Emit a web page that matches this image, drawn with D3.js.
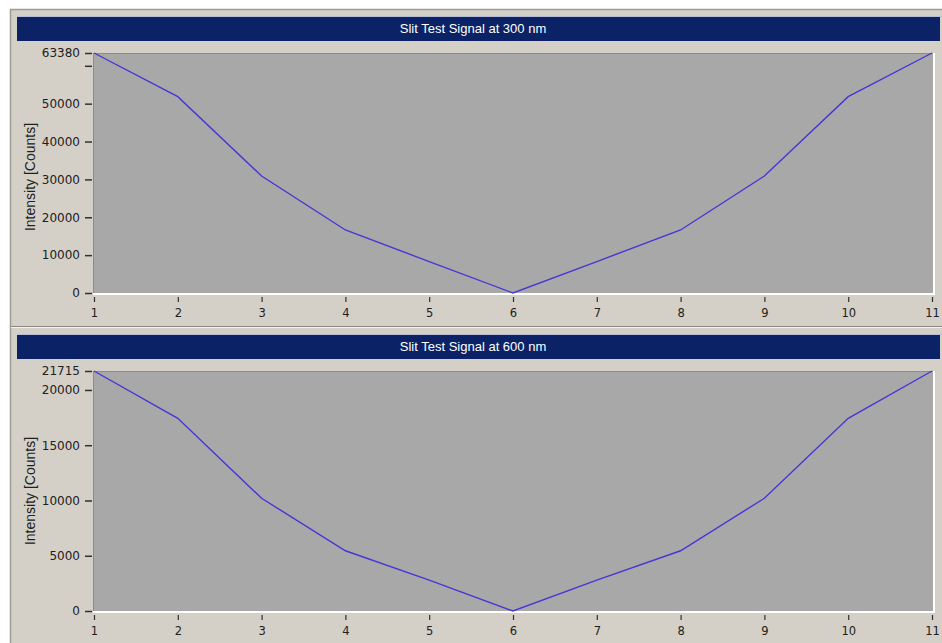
<!DOCTYPE html>
<html>
<head>
<meta charset="utf-8">
<script src="https://cdn.jsdelivr.net/npm/d3@7"></script>
<style>
  body { margin: 0; background: #ffffff; }
  svg { display: block; }
</style>
</head>
<body>
<svg id="chart" width="942" height="643"></svg>
<script>
// readings at each slit position
const positions = [1, 2, 3, 4, 5, 6, 7, 8, 9, 10, 11];
const signal300 = [63380, 51840, 30900, 16640, 8300, 0, 8300, 16640, 30900, 51840, 63380];
const signal600 = [21715, 17430, 10200, 5450, 2800, 0, 2800, 5450, 10200, 17430, 21715];

const titles = ["Slit Test Signal at 300 nm", "Slit Test Signal at 600 nm"];
const yTicks300 = [0, 10000, 20000, 30000, 40000, 50000, 60000, 63380];
const yLabels300 = ["0", "10000", "20000", "30000", "40000", "50000", "", "63380"];
const yTicks600 = [0, 5000, 10000, 15000, 20000, 21715];
const yLabels600 = ["0", "5000", "10000", "15000", "20000", "21715"];
const yTitle = "Intensity [Counts]";

const svg = d3.select("#chart");
const W = 942, H = 643;
const font = "'Liberation Sans', Arial, sans-serif";
const tickFont = "'DejaVu Sans', Verdana, sans-serif";

// window body
svg.append("rect").attr("x", 10).attr("y", 9).attr("width", W - 10).attr("height", H - 9)
    .attr("fill", "#d4d0c8");
svg.append("line").attr("x1", 10.5).attr("x2", 10.5).attr("y1", 9).attr("y2", H)
    .attr("stroke", "#a09c94").attr("stroke-width", 1.5);
svg.append("line").attr("x1", 10).attr("x2", W).attr("y1", 9.5).attr("y2", 9.5)
    .attr("stroke", "#a09c94").attr("stroke-width", 1.5);

// separator between the two panels
svg.append("line").attr("x1", 11).attr("x2", W).attr("y1", 326.5).attr("y2", 326.5)
    .attr("stroke", "#8a8680").attr("stroke-width", 1);
svg.append("line").attr("x1", 11).attr("x2", W).attr("y1", 327.5).attr("y2", 327.5)
    .attr("stroke", "#f4f2ee").attr("stroke-width", 1);

const panels = [
    { title: titles[0], values: signal300, ticks: yTicks300, labels: yLabels300,
      barTop: 17, plotTop: 53, plotBottom: 293, labelY: 177 },
    { title: titles[1], values: signal600, ticks: yTicks600, labels: yLabels600,
      barTop: 335, plotTop: 371, plotBottom: 611, labelY: 491 }
];

const x = d3.scaleLinear().domain([1, 11]).range([94, 932]);

panels.forEach(p => {
    const g = svg.append("g");

    // title bar
    g.append("line").attr("x1", 17).attr("x2", W).attr("y1", p.barTop - 0.5).attr("y2", p.barTop - 0.5)
        .attr("stroke", "#b8bcd8");
    g.append("rect").attr("x", 17).attr("y", p.barTop).attr("width", W - 19).attr("height", 24)
        .attr("fill", "#0b2366");
    g.append("text").attr("x", 473).attr("y", p.barTop + 16)
        .attr("text-anchor", "middle").attr("fill", "#ffffff")
        .style("font-family", font).style("font-size", "13px")
        .text(p.title);

    const maxV = d3.max(p.ticks);
    const y = d3.scaleLinear().domain([0, maxV]).range([p.plotBottom, p.plotTop]);

    // plot area with inset border
    g.append("rect").attr("x", 93).attr("y", p.plotTop).attr("width", 840).attr("height", p.plotBottom - p.plotTop)
        .attr("fill", "#a8a8a8");
    g.append("line").attr("x1", 93).attr("x2", 933).attr("y1", p.plotTop + 0.5).attr("y2", p.plotTop + 0.5)
        .attr("stroke", "#8c8c8c");
    g.append("line").attr("x1", 93.5).attr("x2", 93.5).attr("y1", p.plotTop).attr("y2", p.plotBottom)
        .attr("stroke", "#8c8c8c");
    g.append("line").attr("x1", 93).attr("x2", 935).attr("y1", p.plotBottom + 1).attr("y2", p.plotBottom + 1)
        .attr("stroke", "#ffffff").attr("stroke-width", 2);
    g.append("line").attr("x1", 934).attr("x2", 934).attr("y1", p.plotTop).attr("y2", p.plotBottom + 2)
        .attr("stroke", "#ffffff").attr("stroke-width", 2);

    // y axis
    const yAxis = d3.axisLeft(y).tickValues(p.ticks).tickSize(7).tickPadding(5)
        .tickFormat((d, i) => p.labels[i]);
    const ya = g.append("g").attr("transform", "translate(92,0)").call(yAxis);
    ya.select(".domain").remove();
    ya.selectAll(".tick line").attr("stroke", "#303030").attr("stroke-width", 1.5);
    ya.selectAll(".tick text").attr("fill", "#202020")
        .style("font-family", tickFont).style("font-size", "12px");

    // x axis
    const xAxis = d3.axisBottom(x).tickValues(positions).tickSize(5).tickPadding(7)
        .tickFormat(d3.format("d"));
    const xa = g.append("g").attr("transform", `translate(0,${p.plotBottom + 4})`).call(xAxis);
    xa.select(".domain").remove();
    xa.selectAll(".tick line").attr("stroke", "#303030").attr("stroke-width", 1.2);
    xa.selectAll(".tick text").attr("fill", "#202020")
        .style("font-family", tickFont).style("font-size", "11.5px");

    // axis title
    g.append("text")
        .attr("transform", `translate(35,${p.labelY}) rotate(-90)`)
        .attr("text-anchor", "middle").attr("fill", "#202020")
        .style("font-family", font).style("font-size", "14px")
        .text(yTitle);

    // signal line
    const line = d3.line().x((d, i) => x(positions[i])).y(d => y(d));
    g.append("path").datum(p.values)
        .attr("d", line).attr("fill", "none")
        .attr("stroke", "#4636d6").attr("stroke-width", 1.4);
});
</script>
</body>
</html>
